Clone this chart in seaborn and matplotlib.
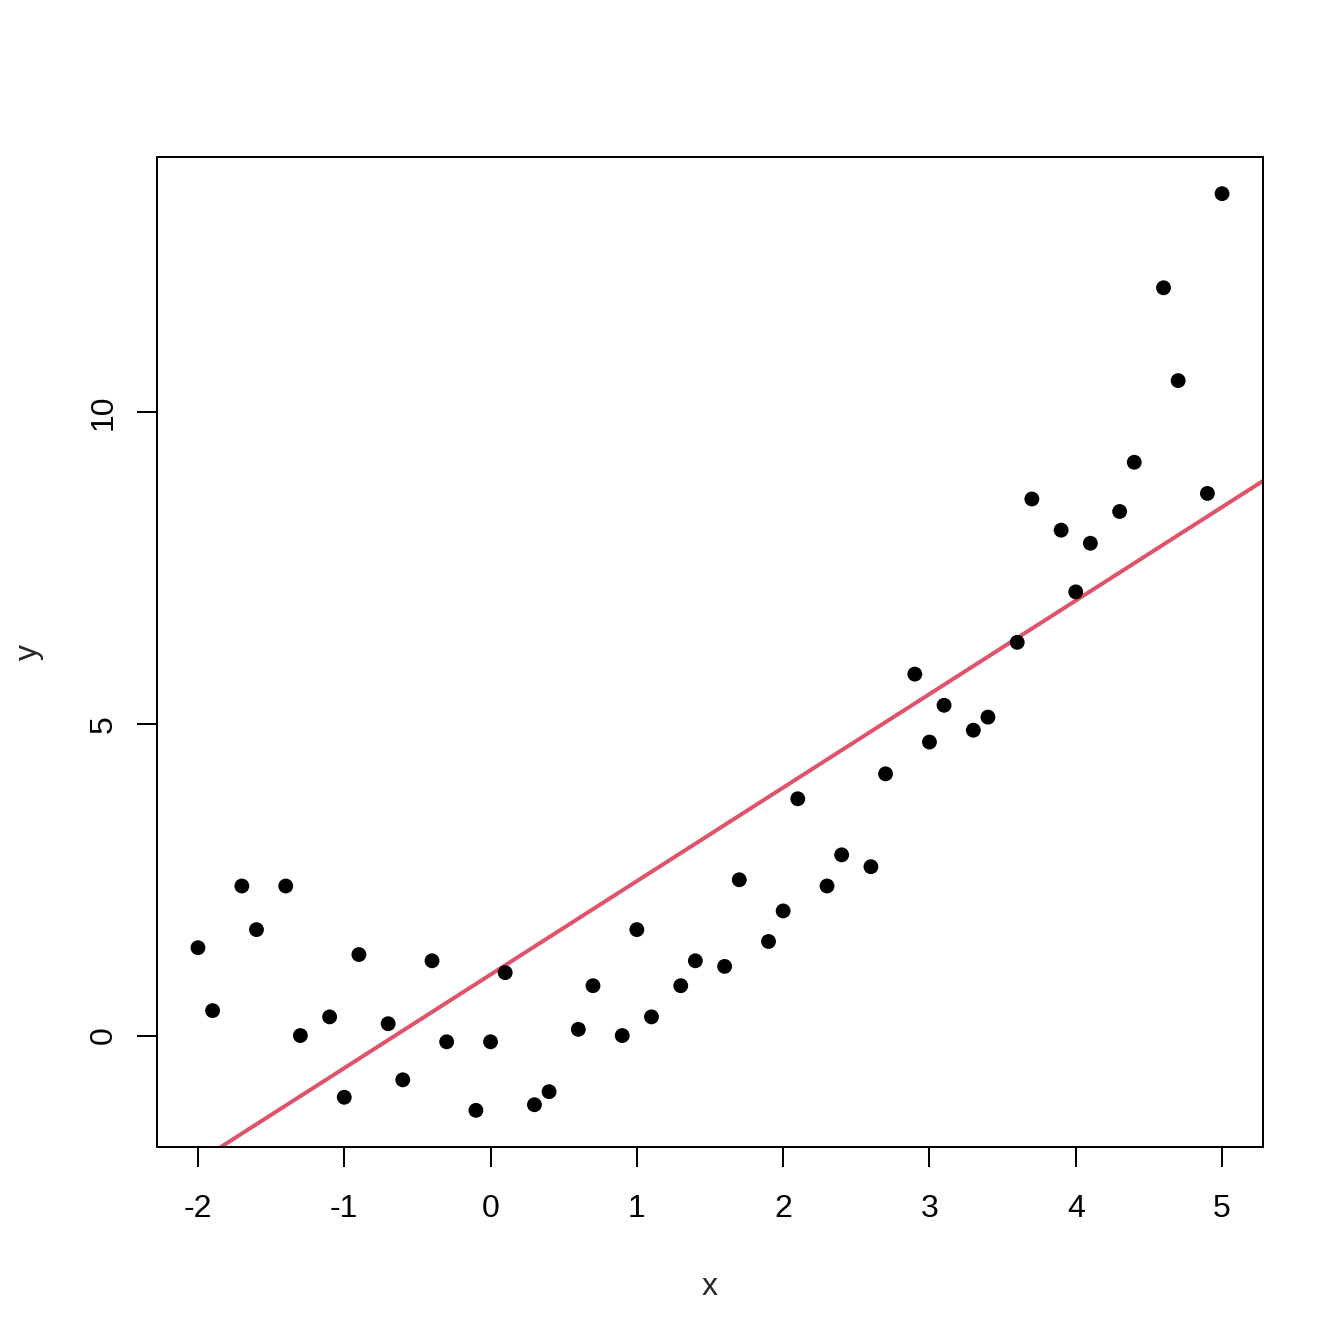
import numpy as np
import pandas as pd
import matplotlib
matplotlib.use("Agg")
import matplotlib.pyplot as plt
import seaborn as sns

x_vals = [-2.0, -1.9, -1.7, -1.6, -1.4, -1.3, -1.1, -1.0, -0.9, -0.7,
          -0.6, -0.4, -0.3, -0.1, 0.0, 0.1, 0.3, 0.4, 0.6, 0.7,
          0.9, 1.0, 1.1, 1.3, 1.4, 1.6, 1.7, 1.9, 2.0, 2.1,
          2.3, 2.4, 2.6, 2.7, 2.9, 3.0, 3.1, 3.3, 3.4, 3.6,
          3.7, 3.9, 4.0, 4.1, 4.3, 4.4, 4.6, 4.7, 4.9, 5.0]
y_vals = [1.41, 0.40, 2.40, 1.70, 2.40, 0.00, 0.30, -0.99, 1.30, 0.19,
          -0.71, 1.20, -0.10, -1.20, -0.10, 1.01, -1.11, -0.90, 0.10, 0.80,
          0.00, 1.70, 0.30, 0.80, 1.20, 1.11, 2.50, 1.51, 2.00, 3.80,
          2.40, 2.90, 2.71, 4.20, 5.80, 4.71, 5.30, 4.90, 5.11, 6.31,
          8.61, 8.11, 7.12, 7.90, 8.41, 9.20, 12.00, 10.51, 8.70, 13.51]
x_ticks = [-2, -1, 0, 1, 2, 3, 4, 5]
y_ticks = [0, 5, 10]

df = pd.DataFrame({"x": x_vals, "y": y_vals})

sns.set_style("white")
plt.rcParams["font.family"] = ["Liberation Sans", "DejaVu Sans"]

fig = plt.figure(figsize=(7, 7), dpi=192)
ax = fig.add_axes([157/1344, 1 - 1147/1344, (1263-157)/1344, (1147-157)/1344])

sns.scatterplot(data=df, x="x", y="y", ax=ax, color="black", s=31,
                edgecolor="none", linewidth=0, zorder=3)

slope, intercept = np.polyfit(df["x"], df["y"], 1)
ax.axline((0, intercept), slope=slope, color="#DF536B", linewidth=1.5, zorder=2)

xr = max(x_vals) - min(x_vals)
yr = max(y_vals) - min(y_vals)
ax.set_xlim(min(x_vals) - 0.04 * xr, max(x_vals) + 0.04 * xr)
ax.set_ylim(min(y_vals) - 0.04 * yr, max(y_vals) + 0.04 * yr)

ax.set_xticks(x_ticks)
ax.set_yticks(y_ticks)
ax.set_xticklabels([str(t) for t in x_ticks])
ax.set_yticklabels([str(t) for t in y_ticks], rotation=90, va="center")

for s in ax.spines.values():
    s.set_visible(True)
    s.set_color("black")
    s.set_linewidth(0.75)

ax.tick_params(axis="both", which="major", direction="out", length=7.5,
               width=0.75, color="black", labelsize=12, labelcolor="black",
               bottom=True, left=True)
ax.tick_params(axis="x", pad=10)
ax.tick_params(axis="y", pad=7)

ax.set_xlabel("x", fontsize=12, labelpad=18)
ax.set_ylabel("y", fontsize=12, labelpad=16.5)

fig.savefig("out.png", dpi=192, facecolor="white")
